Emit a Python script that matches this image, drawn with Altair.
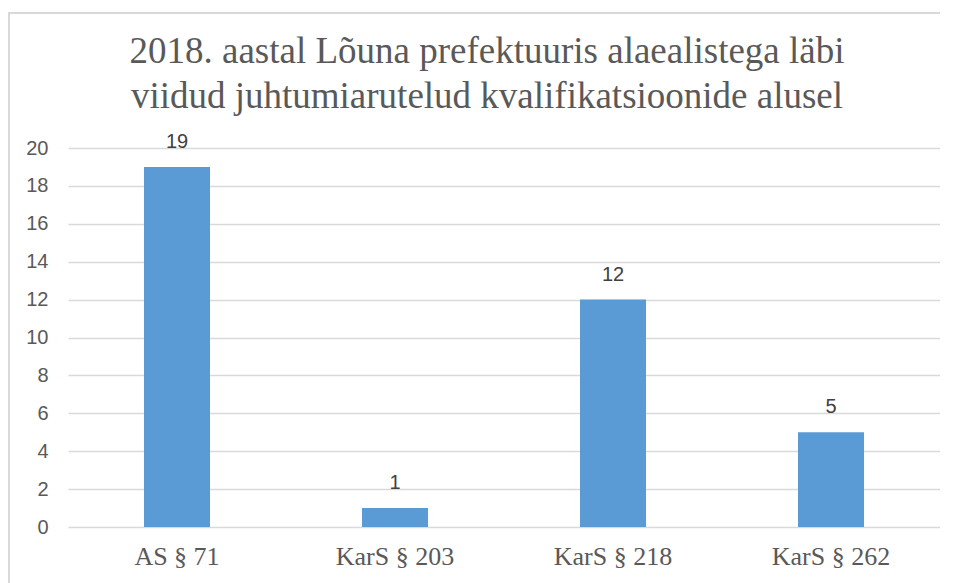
import altair as alt
import pandas as pd

categories = ["AS § 71", "KarS § 203", "KarS § 218", "KarS § 262"]
values = [19, 1, 12, 5]

df = pd.DataFrame({"cat": categories, "val": values})

W, H = 872, 379
SERIF = "Liberation Serif"
SANS = "Liberation Sans"

base = alt.Chart(df).encode(
    x=alt.X("cat:N", sort=categories, title=None,
            scale=alt.Scale(paddingInner=0.7, paddingOuter=0.35),
            axis=alt.Axis(labelFont=SERIF, labelFontSize=26, labelColor="#595959",
                          labelAngle=0, labelPadding=16, ticks=False, domain=False)),
    y=alt.Y("val:Q", title=None,
            scale=alt.Scale(domain=[0, 20], nice=False),
            axis=alt.Axis(values=list(range(0, 21, 2)), labelFont=SANS, labelFontSize=20,
                          labelColor="#595959", ticks=False, domain=False, labelPadding=20,
                          gridColor="#D9D9D9", gridWidth=1.3)),
)

bars = base.mark_bar(color="#5B9BD5", size=66)
labels = base.mark_text(dy=-19, baseline="alphabetic", font=SANS, fontSize=20,
                        color="#404040").encode(text="val:Q")

frame = alt.Chart(df).mark_rect(fill=None, stroke="#D9D9D9", strokeWidth=2).encode(
    x=alt.value(-59), x2=alt.value(W + 60), y=alt.value(-135), y2=alt.value(H + 70)
)

chart = alt.layer(frame, bars, labels).properties(
    width=W, height=H,
    title=alt.Title(
        ["2018. aastal Lõuna prefektuuris alaealistega läbi",
         "viidud juhtumiarutelud kvalifikatsioonide alusel"],
        font=SERIF, fontSize=37, fontWeight="normal", color="#595959",
        anchor="middle", offset=-104, lineHeight=45, dx=-17),
    autosize=alt.AutoSizeParams(type="none"),
    padding={"left": 60, "top": 140, "right": 0, "bottom": 56},
).configure_view(stroke=None)

chart.save("out.html", embed_options={"renderer": "svg", "actions": False})
